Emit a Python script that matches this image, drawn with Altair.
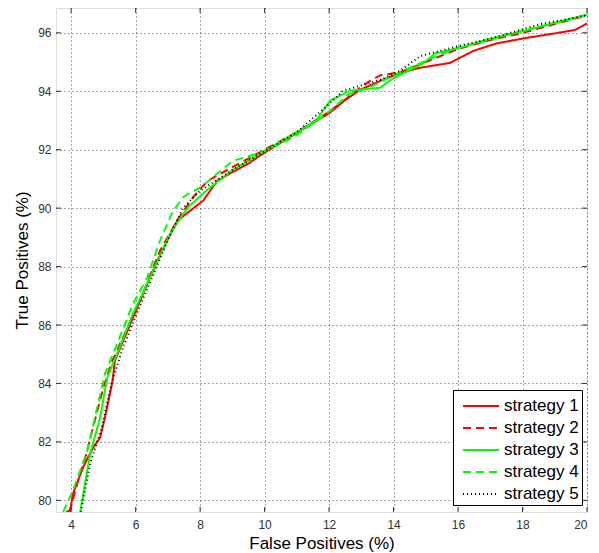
import altair as alt
import pandas as pd

names = ["strategy 1", "strategy 2", "strategy 3", "strategy 4", "strategy 5"]

s1_x = [3.85, 3.97, 4.06, 4.37, 4.68, 4.9, 5.05, 5.27, 5.36, 5.58, 6.05, 6.67, 7.29, 7.69, 8.1, 8.53, 9.55, 9.86, 11.0, 12.03, 12.5, 12.96, 13.58, 14.2, 14.8, 15.75, 16.47, 17.2, 18.14, 19.0, 19.63, 20.0]
s1_y = [79.6, 79.66, 80.24, 81.13, 81.8, 82.15, 82.84, 84.0, 84.79, 85.37, 86.6, 88.2, 89.57, 89.91, 90.26, 90.94, 91.56, 91.8, 92.58, 93.27, 93.7, 94.05, 94.35, 94.63, 94.8, 94.97, 95.38, 95.64, 95.83, 95.98, 96.1, 96.32]

s2_x = [3.95, 4.19, 4.45, 4.68, 5.0, 5.25, 5.52, 6.14, 6.76, 7.3, 7.8, 8.2, 8.4, 9.0, 10.0, 11.0, 12.0, 12.6, 12.96, 13.27, 13.6, 14.2, 15.0, 16.0, 17.0, 18.0, 19.0, 20.0]
s2_y = [79.6, 80.58, 81.5, 82.5, 83.86, 84.7, 85.37, 86.84, 88.55, 89.6, 90.4, 90.9, 91.04, 91.4, 92.0, 92.6, 93.3, 93.8, 94.12, 94.36, 94.55, 94.65, 95.0, 95.45, 95.75, 96.0, 96.3, 96.6]

s3_x = [4.28, 4.59, 4.9, 5.12, 5.43, 5.92, 6.45, 7.07, 7.47, 7.69, 8.3, 9.0, 10.0, 11.0, 11.6, 12.03, 12.65, 13.18, 13.58, 14.0, 14.9, 15.3, 16.06, 17.0, 18.0, 19.0, 20.0]
s3_y = [79.6, 81.6, 82.84, 84.2, 85.03, 86.4, 87.62, 89.13, 89.8, 90.1, 90.7, 91.3, 91.95, 92.6, 93.0, 93.68, 94.02, 94.08, 94.12, 94.45, 94.94, 95.3, 95.49, 95.8, 96.05, 96.35, 96.62]

s4_x = [3.75, 4.06, 4.5, 4.75, 5.05, 5.43, 5.92, 6.36, 6.76, 7.16, 7.5, 8.0, 9.02, 9.77, 10.5, 11.0, 12.0, 12.6, 13.2, 14.0, 15.0, 16.0, 17.0, 17.7, 18.5, 19.3, 20.0]
s4_y = [79.6, 80.34, 81.7, 82.9, 84.34, 85.37, 86.73, 87.62, 88.9, 89.9, 90.4, 90.7, 91.62, 91.86, 92.2, 92.5, 93.3, 93.9, 94.1, 94.55, 95.05, 95.5, 95.75, 96.0, 96.2, 96.4, 96.62]

s5_x = [4.3, 4.6, 4.95, 5.25, 5.6, 6.0, 6.5, 7.0, 7.47, 8.0, 9.0, 10.0, 11.0, 12.12, 12.43, 13.0, 13.6, 14.2, 14.82, 15.5, 16.2, 17.0, 18.55, 19.3, 20.0]
s5_y = [79.6, 81.3, 82.5, 84.0, 85.2, 86.3, 87.6, 88.9, 90.0, 90.6, 91.3, 91.95, 92.6, 93.68, 94.02, 94.2, 94.4, 94.7, 95.2, 95.4, 95.6, 95.8, 96.3, 96.45, 96.6]

x_ticks = [4, 6, 8, 10, 12, 14, 16, 18, 20]
y_ticks = [80, 82, 84, 86, 88, 90, 92, 94, 96]

series = [(s1_x, s1_y), (s2_x, s2_y), (s3_x, s3_y), (s4_x, s4_y), (s5_x, s5_y)]
rows = []
for name, (xs_, ys_) in zip(names, series):
    for i, (xv, yv) in enumerate(zip(xs_, ys_)):
        rows.append({"strategy": name, "fp": xv, "tp": yv, "order": i})
df = pd.DataFrame(rows)

colors = ["#ff0000", "#ff0000", "#00ff00", "#00ff00", "#000000"]
dashes = [[1, 0], [8, 5], [1, 0], [8, 5], [1, 3]]
widths = [2, 2, 2, 2, 1.2]

xs = alt.Scale(domain=[3.53, 20], nice=False, zero=False)
ys = alt.Scale(domain=[79.6, 96.85], nice=False, zero=False)

lines = alt.Chart(df).mark_line(clip=True).encode(
    x=alt.X("fp:Q", scale=xs, title="False Positives (%)",
            axis=alt.Axis(values=x_ticks, grid=True, gridDash=[1, 3], gridColor="#222222",
                          gridOpacity=0.8, tickSize=0, labelPadding=7, domain=False,
                          labelFont="Liberation Sans", labelFontSize=12, labelColor="#333333",
                          titleFont="Liberation Sans", titleFontSize=17, titleFontWeight="normal",
                          titleColor="#000000", titlePadding=5)),
    y=alt.Y("tp:Q", scale=ys, title="True Positives (%)",
            axis=alt.Axis(values=y_ticks, grid=True, gridDash=[1, 3], gridColor="#222222",
                          gridOpacity=0.8, tickSize=0, labelPadding=5, domain=False,
                          labelFont="Liberation Sans", labelFontSize=12, labelColor="#333333",
                          titleFont="Liberation Sans", titleFontSize=17, titleFontWeight="normal",
                          titleColor="#000000", titlePadding=6)),
    color=alt.Color("strategy:N", scale=alt.Scale(domain=names, range=colors),
                    legend=alt.Legend(title=None, orient="none", legendX=397, legendY=382,
                                      fillColor="white", strokeColor="#000000", padding=3,
                                      symbolType="M-0.5,0L2.5,0", symbolSize=576, symbolStrokeWidth=2,
                                      symbolFillColor="transparent",
                                      labelFont="Liberation Sans", labelFontSize=17,
                                      labelFontWeight="normal", labelColor="#000000",
                                      rowPadding=1, labelOffset=22, cornerRadius=0)),
    strokeDash=alt.StrokeDash("strategy:N", scale=alt.Scale(domain=names, range=dashes), legend=None),
    strokeWidth=alt.StrokeWidth("strategy:N", scale=alt.Scale(domain=names, range=widths), legend=None),
    detail="strategy:N",
    order="order:Q",
)

tx = pd.DataFrame({"t": x_ticks})
ty = pd.DataFrame({"t": y_ticks})
tick_bottom = alt.Chart(tx).mark_rule(color="#333333").encode(
    x=alt.X("t:Q", scale=xs), y=alt.value(504), y2=alt.value(499))
tick_top = alt.Chart(tx).mark_rule(color="#333333").encode(
    x=alt.X("t:Q", scale=xs), y=alt.value(0), y2=alt.value(5))
tick_left = alt.Chart(ty).mark_rule(color="#333333").encode(
    y=alt.Y("t:Q", scale=ys), x=alt.value(0), x2=alt.value(5))
tick_right = alt.Chart(ty).mark_rule(color="#333333").encode(
    y=alt.Y("t:Q", scale=ys), x=alt.value(531), x2=alt.value(526))

chart = alt.layer(lines, tick_bottom, tick_top, tick_left, tick_right).properties(
    width=531, height=504,
    autosize=alt.AutoSizeParams(type="none"),
    padding={"left": 48, "top": 0, "right": 4, "bottom": 41},
).configure_view(stroke="#333333", strokeWidth=1).configure(background="white")

chart.save("out.html", embed_options={"renderer": "svg", "actions": False})
